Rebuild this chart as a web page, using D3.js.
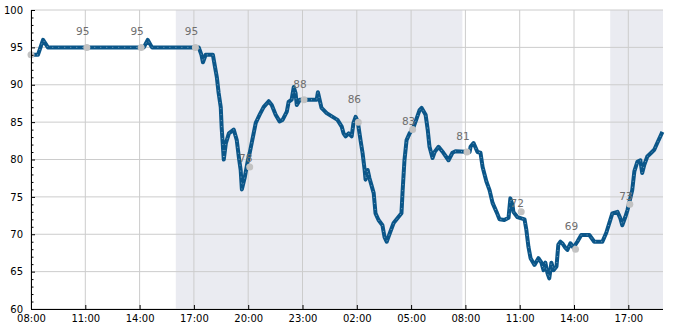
<!DOCTYPE html>
<meta charset="utf-8">
<script src="https://d3js.org/d3.v7.min.js"></script>
<style>
body { margin: 0; background: #fff; }
text { font-family: "DejaVu Sans", sans-serif; }
.grid line { stroke: #cccccc; stroke-width: 1px; }
.axis text { font-size: 10px; fill: #000; }
.axis path, .axis line { stroke: #000; }
.lbl { font-size: 10.5px; fill: #6e6e6e; }
</style>
<body>
<script>
// readings, "day hh:mm"
var times = ["1 08:00","1 08:23","1 08:40","1 08:56","1 14:01","1 14:14","1 14:27","1 14:41","1 17:16","1 17:25","1 17:30","1 17:39",
  "1 18:03","1 18:09","1 18:16","1 18:22","1 18:29","1 18:32","1 18:39","1 18:46","1 18:56","1 19:12","1 19:22","1 19:29",
  "1 19:35","1 19:39","1 19:49","1 19:58","1 20:05","1 20:15","1 20:25","1 20:38","1 20:51","1 21:08","1 21:18","1 21:31",
  "1 21:44","1 21:54","1 22:08","1 22:14","1 22:24","1 22:31","1 22:37","1 22:41","1 22:47","1 22:51","1 23:47","1 23:51",
  "2 00:03","2 00:20","2 00:40","2 00:56","2 01:10","2 01:16","2 01:23","2 01:33","2 01:43","2 01:49","2 01:56","2 02:03",
  "2 02:13","2 02:19","2 02:26","2 02:29","2 02:36","2 02:42","2 02:49","2 02:56","2 03:02","2 03:12","2 03:25","2 03:32",
  "2 03:39","2 03:49","2 04:02","2 04:28","2 04:32","2 04:38","2 04:45","2 04:55","2 05:05","2 05:15","2 05:28","2 05:35",
  "2 05:48","2 05:55","2 06:01","2 06:11","2 06:18","2 06:31","2 06:47","2 07:04","2 07:17","2 07:27","2 08:14","2 08:17",
  "2 08:27","2 08:40","2 08:50","2 08:57","2 09:10","2 09:20","2 09:30","2 09:43","2 09:53","2 10:09","2 10:23","2 10:29",
  "2 10:36","2 10:39","2 10:52","2 11:16","2 11:22","2 11:29","2 11:36","2 11:49","2 12:02","2 12:12","2 12:19","2 12:25",
  "2 12:32","2 12:38","2 12:45","2 12:52","2 13:02","2 13:08","2 13:15","2 13:21","2 13:31","2 13:38","2 13:48","2 13:58",
  "2 14:11","2 14:24","2 14:51","2 15:07","2 15:34","2 15:47","2 15:57","2 16:07","2 16:24","2 16:33","2 16:40","2 16:50",
  "2 16:57","2 17:03","2 17:13","2 17:20","2 17:30","2 17:40","2 17:46","2 17:53","2 18:03","2 18:16","2 18:26","2 18:36","2 18:53"];
var values = [94,94,96,95,95,95,96,95,95,94,93,94,
  94,92.6,91,88.9,87,84.3,80,82.2,83.5,84,82.6,80.3,
  78.6,76,77.7,79.7,80.9,82.9,84.9,86,87,87.8,87.3,86,
  85.1,85.3,86.4,87.7,88,89.7,88.9,87.3,87.7,88,88,89,
  86.9,86.2,85.7,85.3,84.4,83.5,83.1,83.5,83.1,84.9,85.7,85.1,
  82.4,80.9,78.6,77.3,78.6,77.5,76.5,75.5,72.8,71.9,71.2,69.6,
  69,70.1,71.5,72.8,75.9,79.9,82.6,83.5,84,85.1,86.6,86.9,
  86,84,81.7,80.2,81,81.7,80.9,79.9,80.9,81.1,81,81.7,
  82.2,81,80.9,79,77,75.9,74.2,73,72,71.9,72.2,74.8,
  73.9,73,72.3,72,70.6,68.3,66.8,65.9,66.8,66.2,65.2,66.2,
  64.8,64.1,66.2,65.2,65.7,68.6,69,68.8,68.2,67.9,68.8,68.2,
  69,69.9,69.9,69,69,70.2,71.5,72.8,73,72.2,71.2,72.3,
  73.2,74.2,75.9,78.4,79.7,79.9,78.2,79.3,80.4,80.9,81.3,82.2,83.7];

// sampled points with their annotation
var markTimes = ["1 08:00","1 11:05","1 14:05","1 17:05","1 20:05","1 23:05","2 02:05","2 05:05","2 08:05","2 11:05","2 14:05","2 17:05"];
var markValues = [94,95,95,95,79,88,85,84,81,73,68,74];
var markLabels = ["",95,95,95,78,88,86,83,81,72,69,73];

// night bands
var bandStarts = ["1 16:00","2 16:00"];
var bandEnds = ["2 07:50","2 18:55"];

var xTicks = ["1 08:00","1 11:00","1 14:00","1 17:00","1 20:00","1 23:00","2 02:00","2 05:00","2 08:00","2 11:00","2 14:00","2 17:00"];
var yTicks = [60,65,70,75,80,85,90,95,100];

var parse = d3.timeParse("%d %H:%M");

var width = 685, height = 330;
var margin = {top: 10, right: 22, bottom: 21, left: 31};
var w = width - margin.left - margin.right,
    h = height - margin.top - margin.bottom;

var x = d3.scaleTime()
    .domain([parse("1 08:00"), parse("2 18:55")])
    .range([0, w]);
var y = d3.scaleLinear()
    .domain([60, 100])
    .range([h, 0]);

var svg = d3.select("body").append("svg")
    .attr("width", width)
    .attr("height", height)
  .append("g")
    .attr("transform", "translate(" + margin.left + "," + margin.top + ")");

// shaded night periods
svg.selectAll("rect.band")
    .data(bandStarts)
  .enter().append("rect")
    .attr("class", "band")
    .attr("x", function(d) { return x(parse(d)); })
    .attr("y", 0)
    .attr("width", function(d, i) { return x(parse(bandEnds[i])) - x(parse(d)); })
    .attr("height", h)
    .style("fill", "#eaebf1");

// grid
var grid = svg.append("g").attr("class", "grid");
grid.selectAll("line.v")
    .data(xTicks)
  .enter().append("line")
    .attr("x1", function(d) { return x(parse(d)); })
    .attr("x2", function(d) { return x(parse(d)); })
    .attr("y1", 0).attr("y2", h);
grid.selectAll("line.h")
    .data(yTicks)
  .enter().append("line")
    .attr("x1", 0).attr("x2", w)
    .attr("y1", function(d) { return y(d); })
    .attr("y2", function(d) { return y(d); });

// the line
var line = d3.line()
    .x(function(d, i) { return x(parse(times[i])); })
    .y(function(d) { return y(d); });

svg.append("path")
    .datum(values)
    .attr("d", line)
    .style("fill", "none")
    .style("stroke", "#0b5689")
    .style("stroke-width", 4)
    .style("stroke-linejoin", "round");

svg.append("path")
    .datum(values)
    .attr("d", line)
    .style("fill", "none")
    .style("stroke", "#ffffff")
    .style("stroke-opacity", 0.55)
    .style("stroke-width", 0.8)
    .style("stroke-dasharray", "1,5");

// markers + labels
svg.selectAll("circle.mk")
    .data(markValues)
  .enter().append("circle")
    .attr("class", "mk")
    .attr("cx", function(d, i) { return x(parse(markTimes[i])); })
    .attr("cy", function(d) { return y(d); })
    .attr("r", 3.5)
    .style("fill", "#c2c2c2");

svg.selectAll("text.lbl")
    .data(markLabels)
  .enter().append("text")
    .attr("class", "lbl")
    .attr("x", function(d, i) { return x(parse(markTimes[i])) - 4; })
    .attr("y", function(d) { return d === "" ? 0 : y(d) - 12; })
    .attr("text-anchor", "middle")
    .text(function(d) { return d; });

// axes, ticks pointing inward
var fmt = d3.timeFormat("%H:%M");
var xAxis = svg.append("g")
    .attr("class", "axis")
    .attr("transform", "translate(0," + h + ")")
    .call(d3.axisBottom(x)
        .tickValues(xTicks.map(parse))
        .tickFormat(fmt)
        .tickSizeInner(-4)
        .tickSizeOuter(0)
        .tickPadding(6));
xAxis.select(".domain").attr("d", "M0,0.5H" + w);

var yAxis = svg.append("g")
    .attr("class", "axis")
    .call(d3.axisLeft(y)
        .tickValues(yTicks)
        .tickSizeInner(-4)
        .tickSizeOuter(0)
        .tickPadding(8));
yAxis.selectAll(".tick text").attr("dy", "0.32em");

// minor ticks every unit
yAxis.selectAll("line.minor")
    .data(d3.range(60, 101).filter(function(d) { return d % 5 !== 0; }))
  .enter().append("line")
    .attr("class", "minor")
    .attr("x1", 0).attr("x2", 2.5)
    .attr("y1", function(d) { return y(d) + 0.5; })
    .attr("y2", function(d) { return y(d) + 0.5; })
    .style("stroke", "#000");
</script>
</body>
